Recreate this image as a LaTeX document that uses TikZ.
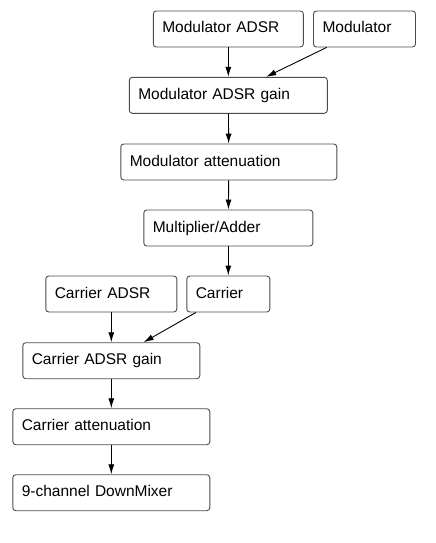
\documentclass[tikz,border=0pt]{standalone}
\usepackage{fontspec}
\setmainfont{Liberation Sans}
\usepackage{tikz}
\usetikzlibrary{arrows.meta}
\usetikzlibrary{positioning}

\tikzset{
  block/.style={draw=black!70, line width=0.9pt, rounded corners=3pt, fill=white,
    minimum height=36pt, inner xsep=9pt, inner ysep=0pt, align=left,
    text height=8pt, text depth=0pt,
    font=\fontsize{15.5}{18}\selectfont},
  flow/.style={-{Latex[length=10pt,width=6pt]}, line width=0.9pt},
}

\begin{document}
\begin{tikzpicture}[x=1pt, y=-1pt]

  \useasboundingbox (0,0) rectangle (436,543);

  % modulator chain
  \node[block, text width=132pt] (modadsr) at (228.3,29) {Modulator ADSR};
  \node[block, text width=84pt] (mod) at (364.5,29) {Modulator};
  \node[block, text width=180pt] (modgain) at (228.3,95.3) {Modulator ADSR gain};
  \node[block, text width=198pt] (modatt) at (228.8,162) {Modulator attenuation};
  \node[block, text width=151pt] (muladd) at (228.3,228) {Multiplier/Adder};

  % carrier chain
  \node[block, text width=113pt] (caradsr) at (111.3,294) {Carrier ADSR};
  \node[block, text width=65pt] (car) at (228.3,294) {Carrier};
  \node[block, text width=159pt] (cargain) at (111.3,360.7) {Carrier ADSR gain};
  \node[block, text width=179pt] (caratt) at (111.3,426.7) {Carrier attenuation};
  \node[block, text width=179pt] (downmix) at (111.3,492.7) {9-channel DownMixer};

  \draw[flow] (modadsr) -- (modgain);
  \draw[flow] (mod) -- (modgain);
  \draw[flow] (modgain) -- (modatt);
  \draw[flow] (modatt) -- (muladd);
  \draw[flow] (muladd) -- (car);
  \draw[flow] (caradsr) -- (cargain);
  \draw[flow] (car) -- (cargain);
  \draw[flow] (cargain) -- (caratt);
  \draw[flow] (caratt) -- (downmix);

\end{tikzpicture}
\end{document}
